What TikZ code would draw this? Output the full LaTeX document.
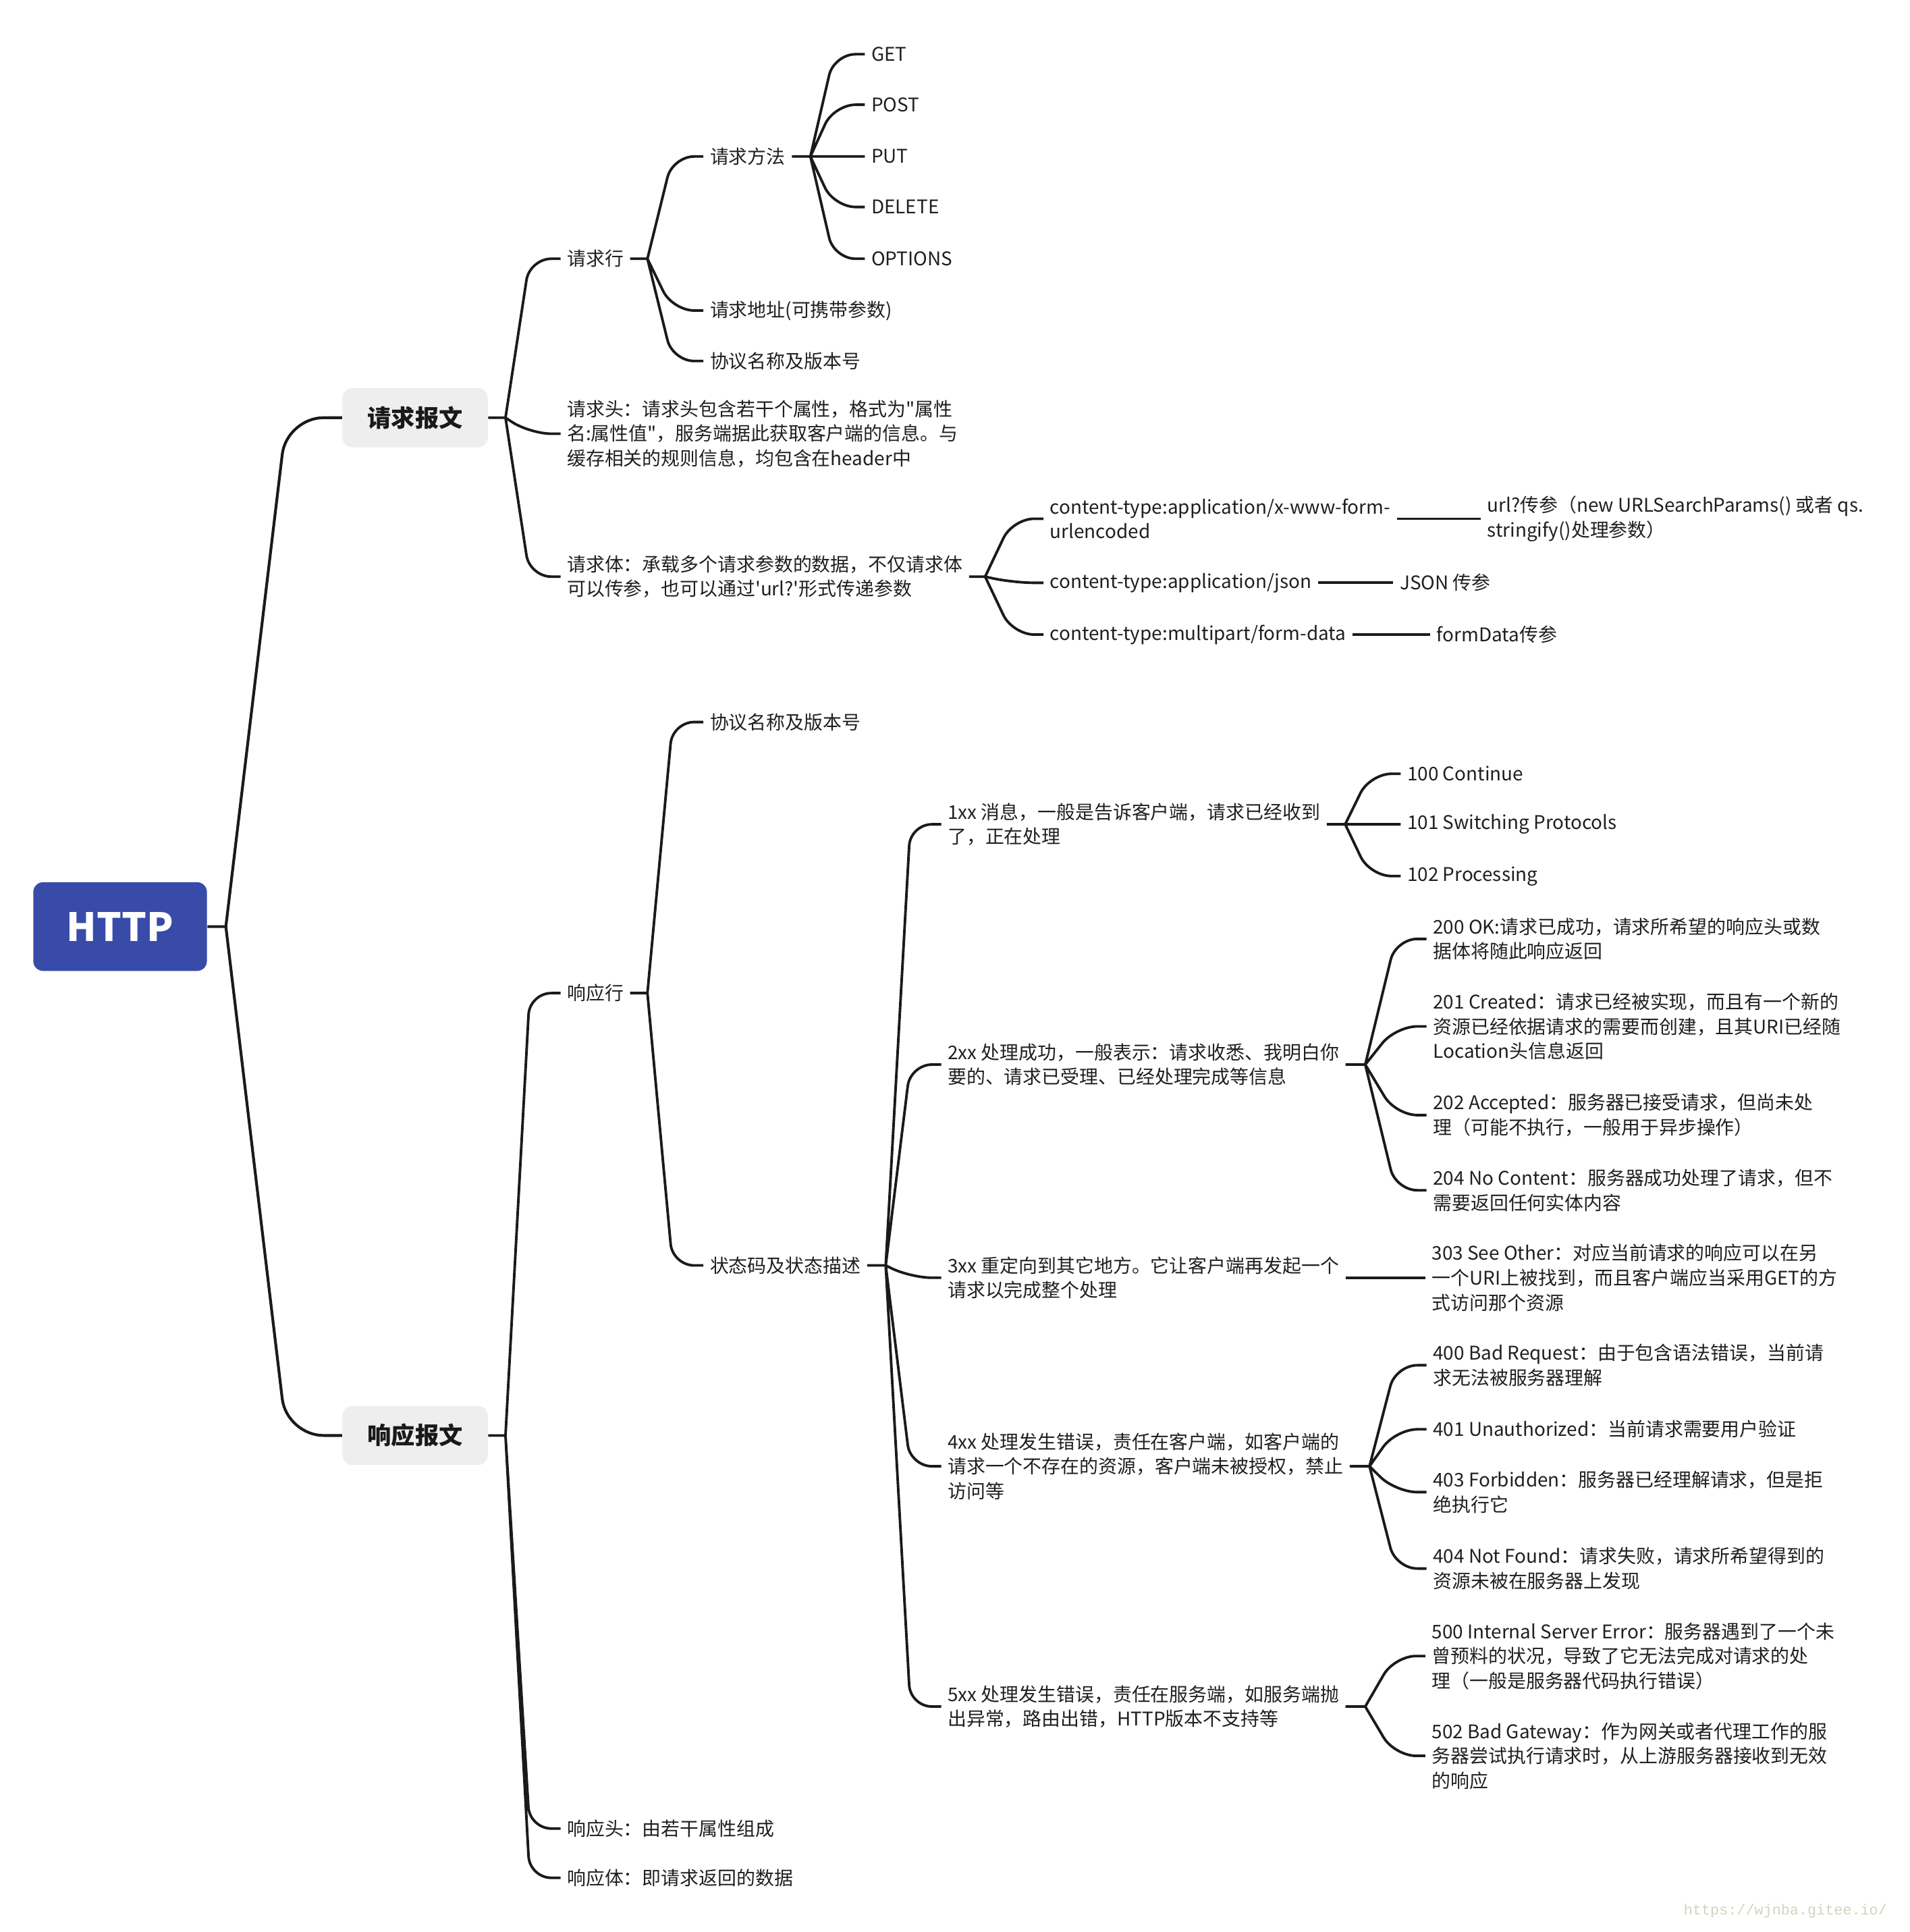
\documentclass[tikz,border=0pt]{standalone}
\usepackage{fontspec}
\setmainfont{Noto Sans CJK SC}[Ligatures=TeXOff]
\newfontfamily\wmfont{Liberation Mono}
\usepackage{xcolor}
\usepackage{tikz}

\definecolor{rootblue}{RGB}{57,75,169}
\definecolor{boxgray}{RGB}{238,238,238}
\definecolor{linegray}{RGB}{26,26,26}
\definecolor{wmbeige}{RGB}{214,210,190}

\tikzset{
  root/.style={fill=rootblue,rounded corners=0.16cm,minimum width=2.82cm,minimum height=1.44cm,
    text=white,font=\fontsize{18}{20}\selectfont\bfseries},
  part/.style={fill=boxgray,rounded corners=0.16cm,minimum width=2.36cm,minimum height=0.96cm,
    text=black!90,font=\fontsize{11}{13}\selectfont\bfseries},
  leaf/.style={anchor=west,inner xsep=0.1cm,inner ysep=0pt,align=left,text=black!88,
    font=\fontsize{8.7}{11.4}\selectfont},
  link/.style={draw=linegray,line width=1.2pt,rounded corners=0.35cm},
  trunk/.style={link,line width=1.3pt,rounded corners=0.6cm},
  wm/.style={anchor=east,text=wmbeige,font=\wmfont\fontsize{6.8}{8}\selectfont}
}

\begin{document}
\begin{tikzpicture}[x=0.02cm,y=-0.02cm]
\useasboundingbox (0,0) rectangle (1550,1568);

% centre and the two halves
\node[root] (http) at (97.5,752) {HTTP};
\node[part] (req) at (337,339) {请求报文};
\node[part] (res) at (337,1165) {响应报文};

% request
\node[leaf] (reqLine) at (455,210) {请求行};
\node[leaf] (reqHead) at (455,352) {请求头：请求头包含若干个属性，格式为"属性\\名:属性值"，服务端据此获取客户端的信息。与\\缓存相关的规则信息，均包含在header中};
\node[leaf] (reqBody) at (455,468) {请求体：承载多个请求参数的数据，不仅请求体\\可以传参，也可以通过'url?'形式传递参数};
\node[leaf] (method) at (571,127) {请求方法};
\node[leaf] (reqUrl) at (571,252) {请求地址(可携带参数)};
\node[leaf] (reqProto) at (571,293) {协议名称及版本号};
\node[leaf] (get) at (702,44) {GET};
\node[leaf] (post) at (702,85) {POST};
\node[leaf] (put) at (702,127) {PUT};
\node[leaf] (delete) at (702,168) {DELETE};
\node[leaf] (options) at (702,210) {OPTIONS};
\node[leaf] (ctForm) at (847,421) {content-type:application/x-www-form-\\urlencoded};
\node[leaf] (ctJson) at (847,473) {content-type:application/json};
\node[leaf] (ctMulti) at (847,515) {content-type:multipart/form-data};
\node[leaf] (pForm) at (1202,421) {url?传参（new URLSearchParams() 或者 qs.\\stringify()处理参数）};
\node[leaf] (pJson) at (1131,473) {JSON 传参};
\node[leaf] (pMulti) at (1161,515) {formData传参};

% response
\node[leaf] (resLine) at (455,806) {响应行};
\node[leaf] (resHead) at (455,1484) {响应头：由若干属性组成};
\node[leaf] (resBody) at (455,1524) {响应体：即请求返回的数据};
\node[leaf] (resProto) at (571,586) {协议名称及版本号};
\node[leaf] (status) at (571,1027) {状态码及状态描述};
\node[leaf] (s1) at (764,669) {1xx 消息，一般是告诉客户端，请求已经收到\\了，正在处理};
\node[leaf] (s2) at (764,864) {2xx 处理成功，一般表示：请求收悉、我明白你\\要的、请求已受理、已经处理完成等信息};
\node[leaf] (s3) at (764,1037) {3xx 重定向到其它地方。它让客户端再发起一个\\请求以完成整个处理};
\node[leaf] (s4) at (764,1190) {4xx 处理发生错误，责任在客户端，如客户端的\\请求一个不存在的资源，客户端未被授权，禁止\\访问等};
\node[leaf] (s5) at (764,1385) {5xx 处理发生错误，责任在服务端，如服务端抛\\出异常，路由出错，HTTP版本不支持等};
\node[leaf] (c100) at (1137,628) {100 Continue};
\node[leaf] (c101) at (1137,669) {101 Switching Protocols};
\node[leaf] (c102) at (1137,711) {102 Processing};
\node[leaf] (c200) at (1158,762) {200 OK:请求已成功，请求所希望的响应头或数\\据体将随此响应返回};
\node[leaf] (c201) at (1158,833) {201 Created：请求已经被实现，而且有一个新的\\资源已经依据请求的需要而创建，且其URI已经随\\Location头信息返回};
\node[leaf] (c202) at (1158,905) {202 Accepted：服务器已接受请求，但尚未处\\理（可能不执行，一般用于异步操作）};
\node[leaf] (c204) at (1158,966) {204 No Content：服务器成功处理了请求，但不\\需要返回任何实体内容};
\node[leaf] (c303) at (1157,1037) {303 See Other：对应当前请求的响应可以在另\\一个URI上被找到，而且客户端应当采用GET的方\\式访问那个资源};
\node[leaf] (c400) at (1158,1108) {400 Bad Request：由于包含语法错误，当前请\\求无法被服务器理解};
\node[leaf] (c401) at (1158,1160) {401 Unauthorized：当前请求需要用户验证};
\node[leaf] (c403) at (1158,1211) {403 Forbidden：服务器已经理解请求，但是拒\\绝执行它};
\node[leaf] (c404) at (1158,1273) {404 Not Found：请求失败，请求所希望得到的\\资源未被在服务器上发现};
\node[leaf] (c500) at (1157,1344) {500 Internal Server Error：服务器遇到了一个未\\曾预料的状况，导致了它无法完成对请求的处\\理（一般是服务器代码执行错误）};
\node[leaf] (c502) at (1157,1425) {502 Bad Gateway：作为网关或者代理工作的服\\务器尝试执行请求时，从上游服务器接收到无效\\的响应};

% junctions
\coordinate (jRoot) at ([xshift=0.3cm]http.east);
\coordinate (jReq) at ([xshift=0.28cm]req.east);
\coordinate (jRes) at ([xshift=0.28cm]res.east);
\coordinate (jReqLine) at ([xshift=0.28cm]reqLine.east);
\coordinate (jMethod) at ([xshift=0.3cm]method.east);
\coordinate (jReqBody) at ([xshift=0.26cm]reqBody.east);
\coordinate (jResLine) at ([xshift=0.28cm]resLine.east);
\coordinate (jStatus) at ([xshift=0.3cm]status.east);
\coordinate (jS1) at ([xshift=0.3cm]s1.east);
\coordinate (jS2) at ([xshift=0.32cm]s2.east);
\coordinate (jS4) at ([xshift=0.32cm]s4.east);
\coordinate (jS5) at ([xshift=0.32cm]s5.east);

\draw[trunk](http.east)--(jRoot)
(jRoot)--([xshift=-0.9cm]req.west)--(req.west)
(jRoot)--([xshift=-0.9cm]res.west)--(res.west);

\draw[link](req.east)--(jReq)
(jReq)--([xshift=-0.5cm]reqLine.west)--(reqLine.west)
(jReq)--([xshift=-0.5cm]reqHead.west)--(reqHead.west)
(jReq)--([xshift=-0.5cm]reqBody.west)--(reqBody.west);
\draw[link](reqLine.east)--(jReqLine)
(jReqLine)--([xshift=-0.5cm]method.west)--(method.west)
(jReqLine)--([xshift=-0.5cm]reqUrl.west)--(reqUrl.west)
(jReqLine)--([xshift=-0.5cm]reqProto.west)--(reqProto.west);
\draw[link](method.east)--(jMethod)
(jMethod)--([xshift=-0.5cm]get.west)--(get.west)
(jMethod)--([xshift=-0.5cm]post.west)--(post.west)
(jMethod)--(put.west)
(jMethod)--([xshift=-0.5cm]delete.west)--(delete.west)
(jMethod)--([xshift=-0.5cm]options.west)--(options.west);
\draw[link](reqBody.east)--(jReqBody)
(jReqBody)--([xshift=-0.5cm]ctForm.west)--(ctForm.west)
(jReqBody)--([xshift=-0.5cm]ctJson.west)--(ctJson.west)
(jReqBody)--([xshift=-0.5cm]ctMulti.west)--(ctMulti.west);
\draw[link](ctForm.east)--(pForm.west)
(ctJson.east)--(pJson.west)
(ctMulti.east)--(pMulti.west);

\draw[link](res.east)--(jRes)
(jRes)--([xshift=-0.5cm]resLine.west)--(resLine.west)
(jRes)--([xshift=-0.5cm]resHead.west)--(resHead.west)
(jRes)--([xshift=-0.5cm]resBody.west)--(resBody.west);
\draw[link](resLine.east)--(jResLine)
(jResLine)--([xshift=-0.5cm]resProto.west)--(resProto.west)
(jResLine)--([xshift=-0.5cm]status.west)--(status.west);
\draw[link](status.east)--(jStatus)
(jStatus)--([xshift=-0.5cm]s1.west)--(s1.west)
(jStatus)--([xshift=-0.5cm]s2.west)--(s2.west)
(jStatus)--([xshift=-0.5cm]s3.west)--(s3.west)
(jStatus)--([xshift=-0.5cm]s4.west)--(s4.west)
(jStatus)--([xshift=-0.5cm]s5.west)--(s5.west);
\draw[link](s1.east)--(jS1)
(jS1)--([xshift=-0.5cm]c100.west)--(c100.west)
(jS1)--(c101.west)
(jS1)--([xshift=-0.5cm]c102.west)--(c102.west);
\draw[link](s2.east)--(jS2)
(jS2)--([xshift=-0.5cm]c200.west)--(c200.west)
(jS2)--([xshift=-0.5cm]c201.west)--(c201.west)
(jS2)--([xshift=-0.5cm]c202.west)--(c202.west)
(jS2)--([xshift=-0.5cm]c204.west)--(c204.west);
\draw[link](s3.east)--(c303.west);
\draw[link](s4.east)--(jS4)
(jS4)--([xshift=-0.5cm]c400.west)--(c400.west)
(jS4)--([xshift=-0.5cm]c401.west)--(c401.west)
(jS4)--([xshift=-0.5cm]c403.west)--(c403.west)
(jS4)--([xshift=-0.5cm]c404.west)--(c404.west);
\draw[link](s5.east)--(jS5)
(jS5)--([xshift=-0.5cm]c500.west)--(c500.west)
(jS5)--([xshift=-0.5cm]c502.west)--(c502.west);

\node[wm] (mark) at (1538,1551) {https://wjnba.gitee.io/};
\end{tikzpicture}
\end{document}
